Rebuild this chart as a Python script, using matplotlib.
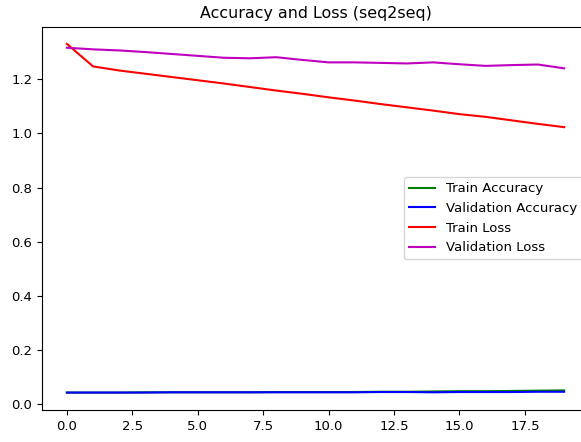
import matplotlib
matplotlib.use("Agg")
import matplotlib.pyplot as plt

epochs = list(range(20))

train_acc = [0.044, 0.044, 0.044, 0.045, 0.045, 0.045, 0.045, 0.045, 0.046, 0.046,
             0.046, 0.046, 0.047, 0.047, 0.048, 0.049, 0.049, 0.050, 0.051, 0.052]
val_acc = [0.044, 0.044, 0.044, 0.044, 0.045, 0.045, 0.045, 0.045, 0.045, 0.045,
           0.045, 0.045, 0.046, 0.046, 0.045, 0.046, 0.046, 0.046, 0.047, 0.047]
train_loss = [1.330, 1.247, 1.232, 1.220, 1.208, 1.196, 1.184, 1.171, 1.158, 1.146,
              1.133, 1.121, 1.108, 1.096, 1.084, 1.071, 1.061, 1.048, 1.035, 1.023]
val_loss = [1.316, 1.310, 1.306, 1.300, 1.293, 1.286, 1.279, 1.277, 1.281, 1.271,
            1.262, 1.262, 1.260, 1.258, 1.262, 1.255, 1.249, 1.252, 1.254, 1.240]

plt.rcParams['font.size'] = 9.5

fig = plt.figure(figsize=(5.81, 4.42), dpi=100)
# axes run a bit past the right edge, as in the cropped reference
ax = fig.add_axes([42 / 581, 32 / 442, 547 / 581, 383.5 / 442])

ax.plot(epochs, train_acc, color='g', label='Train Accuracy')
ax.plot(epochs, val_acc, color='b', label='Validation Accuracy')
ax.plot(epochs, train_loss, color='r', label='Train Loss')
ax.plot(epochs, val_loss, color='m', label='Validation Loss')

ax.set_title('Accuracy and Loss (seq2seq)')
ax.legend(loc='center right')

fig.savefig('out.png', dpi=100)
